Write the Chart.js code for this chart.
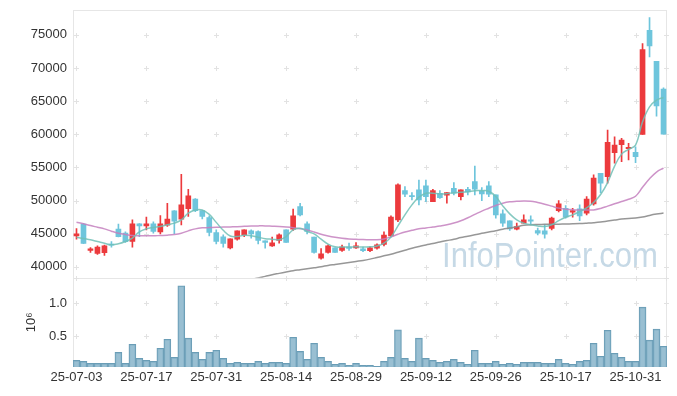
<!DOCTYPE html>
<html><head><meta charset="utf-8">
<script src="https://cdn.jsdelivr.net/npm/chart.js@4/dist/chart.umd.min.js"></script>
<style>html,body{margin:0;padding:0;background:#fff}</style>
</head><body>
<canvas id="c" width="677" height="396"></canvas>
<script>
const dates = ['25-07-03','25-07-04','25-07-07','25-07-08','25-07-09','25-07-10','25-07-11','25-07-14','25-07-15','25-07-16',
'25-07-17','25-07-18','25-07-21','25-07-22','25-07-23','25-07-24','25-07-25','25-07-28','25-07-29','25-07-30',
'25-07-31','25-08-01','25-08-04','25-08-05','25-08-06','25-08-07','25-08-08','25-08-11','25-08-12','25-08-13',
'25-08-14','25-08-18','25-08-19','25-08-20','25-08-21','25-08-22','25-08-25','25-08-26','25-08-27','25-08-28',
'25-08-29','25-09-01','25-09-02','25-09-03','25-09-04','25-09-05','25-09-08','25-09-09','25-09-10','25-09-11',
'25-09-12','25-09-15','25-09-16','25-09-17','25-09-18','25-09-19','25-09-22','25-09-23','25-09-24','25-09-25',
'25-09-26','25-09-29','25-09-30','25-10-01','25-10-02','25-10-10','25-10-13','25-10-14','25-10-15','25-10-16',
'25-10-17','25-10-20','25-10-21','25-10-22','25-10-23','25-10-24','25-10-27','25-10-28','25-10-29','25-10-30',
'25-10-31','25-11-03','25-11-04','25-11-05','25-11-06'];

const opens = [44670,46430,42450,42000,42110,43420,45680,45070,43810,46480,
46170,46480,45270,46280,48430,47180,48780,50200,48480,47420,
45170,44520,42860,44170,44820,45420,45320,43920,43160,43960,
45570,45680,49080,46480,44470,41310,42150,42860,42450,42970,
42860,42710,42410,42820,43360,44670,47080,51490,50740,51600,
52200,49830,51100,50800,51850,50590,51700,52850,51450,52200,
50840,47980,46930,45680,46580,47080,45470,45420,45770,48480,
48830,48240,48730,48090,49500,54110,53600,57210,58420,57820,
57270,59980,75690,71020,66810];
const highs = [45770,46520,42900,43160,43270,43810,46430,45270,47080,46530,
47480,46780,47730,49590,48480,53960,51700,50300,48480,47680,
45570,44820,44220,45420,45570,45570,45420,43920,44470,44970,
45570,48690,49590,46780,44470,42760,43310,42860,43270,43570,
43660,42970,43010,43470,45270,47680,52500,52090,51190,53100,
53100,51700,51500,51200,52700,51600,52000,55210,51940,52850,
50840,48580,46930,46580,47830,47680,45830,46330,47480,49980,
49240,48830,49340,50590,53860,54110,60630,59630,59380,58630,
58120,73690,77610,71020,67000];
const lows = [44170,43480,42150,41850,41700,42970,44500,43660,42970,44560,
45570,45080,44970,46070,45000,46330,47580,48300,47230,44670,
43460,42970,42710,44020,44560,44320,43460,42820,43060,43570,
43660,45470,47680,44970,42060,41160,42060,42150,42300,42450,
42760,42260,42260,42660,43160,44560,46820,50590,50090,49340,
49830,49830,50300,49590,50840,50090,50840,50840,49980,50590,
47330,46070,45470,45570,46580,46330,44820,44320,45570,48280,
47330,47480,46970,47830,49300,51200,52600,55620,55860,56110,
55720,59980,71670,62740,60030];
const closes = [44970,43510,42710,42970,43160,43270,44560,43770,46480,46170,
46480,45320,46480,47180,46900,49340,50690,48480,47580,45170,
43810,43510,44220,45420,45570,44970,43960,43660,43610,44820,
43660,47680,47830,45320,42150,41960,43160,42150,42970,42760,
43160,42410,42860,43310,44770,47480,52350,50950,50590,50090,
50590,51490,50440,51200,51100,51600,51300,51700,50990,50950,
47830,46580,45720,46070,47080,46880,45070,44920,47330,49490,
47480,48480,47680,50200,53400,52600,58780,58380,59130,58030,
56610,72790,73330,64290,60030];
const volumes = [136000,120000,90000,90000,90000,90000,257000,90000,378000,166000,
136000,120000,318000,454000,180000,1262000,470000,257000,150000,257000,
288000,166000,90000,106000,90000,90000,120000,90000,106000,106000,
90000,485000,272000,150000,394000,180000,120000,76000,90000,60000,
90000,60000,60000,45000,120000,180000,595000,166000,120000,470000,
166000,136000,106000,120000,150000,106000,76000,288000,90000,90000,
120000,76000,90000,76000,106000,106000,106000,90000,90000,150000,
90000,76000,120000,136000,394000,197000,590000,242000,180000,120000,
120000,940000,440000,606000,348000];
const ma5 = [44470,44260,44070,43810,43540,43310,43460,43810,44320,45270,
45720,45920,46070,46330,46580,47080,48090,48580,48580,47900,
46700,45500,44650,44560,44770,44670,44470,44220,44170,44070,
44560,45570,45820,45320,44970,44170,43420,43010,42970,42970,
43010,42970,43010,43120,43570,44470,46170,47830,49340,50500,
51100,51100,50990,51040,51190,51250,51340,51490,51490,51400,
50590,49190,47980,47080,46580,46330,46170,46070,46330,46970,
47480,47830,48330,48900,49700,50900,52700,55200,57000,57730,
58370,61880,64140,65150,65560];
const ma20 = [46730,46500,46220,45970,45720,45370,45070,44870,44720,44670,
44670,44670,44720,44770,44870,45070,45420,45720,45870,45920,
45970,45990,46020,46050,46100,46150,46170,46170,46120,46070,
46000,45900,45750,45550,45250,44900,44650,44450,44300,44200,
44150,44100,44070,44070,44200,44500,44900,45250,45500,45720,
45850,46000,46150,46330,46600,46950,47400,47900,48400,48830,
49250,49590,49800,49880,49940,49900,49700,49450,49150,48850,
48690,48620,48580,48570,48580,48800,49150,49500,49850,50200,
50650,52000,53300,54300,54900];
const ma60 = [null,null,null,null,null,null,null,null,null,null,
null,null,null,null,null,null,null,null,null,null,
null,null,null,null,37900,38100,38300,38550,38800,39000,
39200,39400,39550,39700,39850,40000,40200,40350,40500,40650,
40800,40950,41150,41400,41650,41900,42200,42500,42800,43060,
43300,43500,43750,43950,44150,44400,44600,44820,45050,45250,
45450,45670,45850,46050,46250,46350,46380,46400,46420,46430,
46450,46480,46520,46580,46650,46750,46900,47050,47200,47300,
47350,47500,47750,47950,48100];
const priceTicks = [40000,45000,50000,55000,60000,65000,70000,75000];
const volumeTicks = [500000,1000000];

const UP = '#ec3a3d', DOWN = '#6ec5dc';
const candleColor = c => closes[c.dataIndex] >= opens[c.dataIndex] ? UP : DOWN;
const FONT = {family: '"Liberation Sans", Arial, sans-serif', size: 13};

const deco = {
  id: 'deco',
  beforeDatasetsDraw(chart) {
    const ctx = chart.ctx, x = chart.scales.x, y = chart.scales.y, yv = chart.scales.yv;
    ctx.save();
    ctx.font = '35px "Liberation Sans", Arial, sans-serif';
    const txt = 'InfoPointer.com';
    const w = ctx.measureText(txt).width;
    ctx.translate(442, 266.5);
    ctx.scale(216 / w, 1);
    ctx.fillStyle = '#c6d9e6';
    ctx.textBaseline = 'alphabetic';
    ctx.fillText(txt, 0, 0);
    ctx.restore();
    ctx.save();
    ctx.strokeStyle = '#e6e6e6';
    ctx.lineWidth = 1;
    ctx.strokeRect(Math.round(x.left) + 0.5, Math.round(y.top) + 0.5, Math.round(x.right - x.left) - 1, Math.round(y.bottom - y.top));
    ctx.strokeRect(Math.round(x.left) + 0.5, Math.round(yv.top) + 0.5, Math.round(x.right - x.left) - 1, Math.round(yv.bottom - yv.top) - 1);
    const xs = [];
    for (let i = 0; i < dates.length; i += 10) xs.push(Math.round(x.getPixelForValue(i)));
    xs.push(Math.round(x.right) - 1);
    const ys = priceTicks.map(v => Math.round(y.getPixelForValue(v))).concat(volumeTicks.map(v => Math.round(yv.getPixelForValue(v))));
    ys.push(Math.round(y.bottom));
    ctx.strokeStyle = '#e2e2e2';
    ctx.beginPath();
    for (const px of xs) for (const py of ys) {
      ctx.moveTo(px - 2, py + 0.5); ctx.lineTo(px + 3, py + 0.5);
      ctx.moveTo(px + 0.5, py - 2); ctx.lineTo(px + 0.5, py + 3);
    }
    ctx.stroke();
    ctx.restore();
  }
};

new Chart(document.getElementById('c'), {
  data: {
    labels: dates,
    datasets: [
      {type: 'line', label: 'MA5', data: ma5, yAxisID: 'y', borderColor: 'rgba(112,192,182,0.85)', borderWidth: 1.5, pointRadius: 0, tension: 0.4, order: 0},
      {type: 'line', label: 'MA20', data: ma20, yAxisID: 'y', borderColor: 'rgba(196,128,190,0.85)', borderWidth: 1.5, pointRadius: 0, tension: 0.4, order: 0},
      {type: 'line', label: 'MA60', data: ma60, yAxisID: 'y', borderColor: 'rgba(140,140,140,0.9)', borderWidth: 1.5, pointRadius: 0, tension: 0.4, order: 0},
      {type: 'bar', label: 'Body', data: opens.map((o, i) => [o, closes[i]]), yAxisID: 'y', backgroundColor: candleColor, barThickness: 5, minBarLength: 1, grouped: false, order: 1},
      {type: 'bar', label: 'Wick', data: lows.map((l, i) => [l, highs[i]]), yAxisID: 'y', backgroundColor: candleColor, barThickness: 1, grouped: false, order: 2},
      {type: 'bar', label: 'Volume', data: volumes, yAxisID: 'yv', backgroundColor: 'rgba(135,180,202,0.85)', borderColor: '#6a9db6', borderWidth: 1, barPercentage: 1, categoryPercentage: 1, grouped: false, order: 3}
    ]
  },
  options: {
    responsive: false,
    animation: false,
    devicePixelRatio: 1,
    layout: {padding: {top: 10, right: 10, left: 0, bottom: 0}},
    plugins: {legend: {display: false}, tooltip: {enabled: false}},
    scales: {
      x: {
        type: 'category', offset: true,
        grid: {display: false, drawTicks: false}, border: {display: false},
        ticks: {autoSkip: false, maxRotation: 0, padding: 3, color: '#333', font: FONT,
          callback(v, i) { return i % 10 === 0 ? dates[i] : null; }},
        afterFit(s) { s.height = 29; s.paddingLeft = 0; s.paddingRight = 0; }
      },
      yv: {
        type: 'linear', position: 'left', stack: 'main', stackWeight: 1,
        min: 35000, max: 1383000,
        grid: {display: false, drawTicks: false}, border: {display: false},
        title: {display: true, text: '10⁶', color: '#333', font: FONT, padding: {top: 24, bottom: 0}},
        ticks: {padding: 6, color: '#333', font: FONT, callback: v => (v / 1e6).toFixed(1)},
        afterBuildTicks(s) { s.ticks = volumeTicks.map(v => ({value: v})); },
        afterFit(s) { s.width = 73; s.paddingTop = 0; s.paddingBottom = 0; }
      },
      y: {
        type: 'linear', position: 'left', stack: 'main', stackWeight: 3,
        min: 38340, max: 78760,
        grid: {display: false, drawTicks: false}, border: {display: false},
        ticks: {padding: 6, color: '#333', font: FONT, callback: v => String(v)},
        afterBuildTicks(s) { s.ticks = priceTicks.map(v => ({value: v})); },
        afterFit(s) { s.width = 73; s.paddingTop = 0; s.paddingBottom = 0; }
      }
    }
  },
  plugins: [deco]
});
</script>
</body></html>
